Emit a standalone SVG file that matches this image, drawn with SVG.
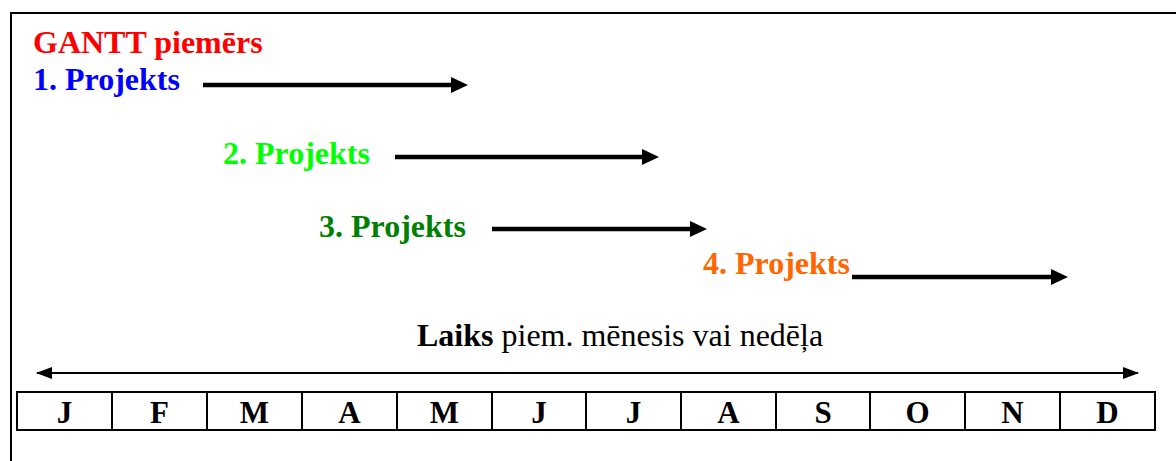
<svg xmlns="http://www.w3.org/2000/svg" width="1176" height="461" viewBox="0 0 1176 461">
<style>
.t{font-family:"Liberation Serif","Times New Roman",serif;font-size:32px;font-weight:bold}
.m{font-family:"Liberation Serif","Times New Roman",serif;font-size:31px;font-weight:bold;text-anchor:middle;fill:#000}
.bar{stroke:#000;stroke-width:4.5;fill:none}
.cell{fill:#fff;stroke:#000;stroke-width:2}
</style>
<defs>
<marker id="head" viewBox="0 0 17 16" refX="0" refY="8" markerWidth="17" markerHeight="16" markerUnits="userSpaceOnUse" orient="auto"><path d="M0,0 L17,8 L0,16 Z" fill="#000"/></marker>
<marker id="thin" viewBox="0 0 16 12" refX="15" refY="6" markerWidth="16" markerHeight="12" markerUnits="userSpaceOnUse" orient="auto-start-reverse"><path d="M0,0 L16,6 L0,12 Z" fill="#000"/></marker>
</defs>
<rect width="1176" height="461" fill="#fff"/>
<path d="M11,461 V13 H1180" fill="none" stroke="#000" stroke-width="2"/>
<g id="title"><text class="t" x="33" y="53" fill="#FF0000">GANTT piemērs</text></g>
<g id="p1"><text class="t" x="33" y="90" fill="#0000FF">1. Projekts</text></g>
<g id="p2"><text class="t" x="223" y="164" fill="#00FF00">2. Projekts</text></g>
<g id="p3"><text class="t" x="319" y="237" fill="#008000">3. Projekts</text></g>
<g id="p4"><text class="t" x="703" y="274" fill="#FF6600">4. Projekts</text></g>
<g id="connectors">
<line class="bar" x1="203" y1="85" x2="451" y2="85" marker-end="url(#head)"/>
<line class="bar" x1="395" y1="157" x2="642" y2="157" marker-end="url(#head)"/>
<line class="bar" x1="492" y1="229" x2="690" y2="229" marker-end="url(#head)"/>
<line class="bar" x1="852" y1="277" x2="1051" y2="277" marker-end="url(#head)"/>
<line x1="37" y1="373" x2="1138" y2="373" stroke="#000" stroke-width="2" marker-start="url(#thin)" marker-end="url(#thin)"/>
</g>
<g id="axis-label"><text x="417" y="346" font-family="Liberation Serif,'Times New Roman',serif" font-size="32" fill="#000"><tspan font-weight="bold">Laiks</tspan> piem. mēnesis vai nedēļa</text></g>
<g id="months">
<rect class="cell" x="17" y="392" width="95" height="38"/>
<rect class="cell" x="112" y="392" width="95" height="38"/>
<rect class="cell" x="207" y="392" width="95" height="38"/>
<rect class="cell" x="302" y="392" width="95" height="38"/>
<rect class="cell" x="397" y="392" width="95" height="38"/>
<rect class="cell" x="492" y="392" width="94" height="38"/>
<rect class="cell" x="586" y="392" width="95" height="38"/>
<rect class="cell" x="681" y="392" width="95" height="38"/>
<rect class="cell" x="776" y="392" width="94" height="38"/>
<rect class="cell" x="870" y="392" width="95" height="38"/>
<rect class="cell" x="965" y="392" width="95" height="38"/>
<rect class="cell" x="1060" y="392" width="95" height="38"/>
<text class="m" x="64.5" y="423">J</text>
<text class="m" x="159.5" y="423">F</text>
<text class="m" x="254.5" y="423">M</text>
<text class="m" x="349.5" y="423">A</text>
<text class="m" x="444.5" y="423">M</text>
<text class="m" x="539" y="423">J</text>
<text class="m" x="633.5" y="423">J</text>
<text class="m" x="728.5" y="423">A</text>
<text class="m" x="823" y="423">S</text>
<text class="m" x="917.5" y="423">O</text>
<text class="m" x="1012.5" y="423">N</text>
<text class="m" x="1107.5" y="423">D</text>
</g>
</svg>
